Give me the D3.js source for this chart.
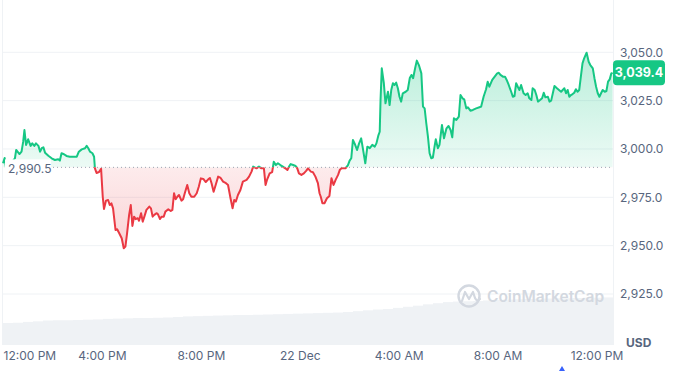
<!DOCTYPE html>
<html>
<head>
<meta charset="utf-8">
<script src="https://cdn.jsdelivr.net/npm/d3@7"></script>
<style>
  body { margin: 0; background: #fff; }
  svg { display: block; font-family: Inter, "Noto Sans", sans-serif; }
</style>
</head>
<body>
<div id="chart"></div>
<script>
// minutes after 21 Dec 12:00 PM
const minutes = [0,4,8,17,24,29,32,40,45,49,52,56,61,67,71,76,80,86,90,94,98,102,110,118,126,134,138,142,148,154,162,170,179,184,191,199,203,207,211,217,221,223,227,233,238,242,245,250,255,259,263,267,273,277,282,288,293,297,301,306,310,314,318,322,327,330,335,339,343,348,355,359,363,367,373,376,381,385,390,394,401,407,411,415,419,423,427,433,437,441,447,452,457,464,470,475,480,486,492,498,502,506,511,516,522,528,534,541,546,552,557,561,565,570,576,582,591,597,603,607,615,621,627,633,637,641,647,653,657,662,667,673,679,685,690,694,698,704,710,714,718,724,730,736,740,747,752,758,764,768,771,775,780,786,792,797,802,807,813,817,821,825,831,837,841,845,849,853,859,864,869,873,879,884,890,896,902,906,911,914,916,919,924,928,934,938,942,946,950,954,958,962,966,970,977,982,987,991,995,1000,1004,1009,1015,1019,1023,1027,1031,1035,1039,1043,1047,1050,1055,1059,1065,1070,1076,1081,1086,1090,1094,1100,1106,1110,1115,1119,1124,1128,1134,1140,1148,1156,1160,1166,1172,1176,1180,1187,1193,1199,1203,1207,1213,1218,1222,1227,1233,1237,1241,1245,1249,1253,1257,1263,1268,1273,1277,1282,1285,1290,1294,1298,1303,1308,1312,1316,1322,1326,1330,1334,1338,1344,1349,1354,1358,1362,1366,1370,1374,1378,1382,1386,1390,1394,1398,1402,1406,1410,1416,1421,1425,1431,1435,1439,1443,1447,1451,1455,1460,1464,1468,1472,1476,1479];

const prices = [2992.6,2995.3,2989.1,2991.2,2993.8,2995.2,2999.5,2997.4,2998.6,3003.8,3009.8,3002.1,3005.0,3001.6,3002.9,3001.6,3002.9,3001.6,2998.6,3000.4,3000.9,2998.1,2996.5,2995.2,2994.3,2994.7,2994.0,2997.8,2997.3,2996.4,2996.0,2996.0,2996.0,2998.6,2999.8,3000.4,3001.6,3000.4,2998.6,2997.8,2996.0,2990.0,2987.6,2988.1,2989.7,2975.3,2969.0,2973.3,2973.6,2971.0,2971.9,2969.3,2958.1,2958.5,2956.4,2953.8,2948.7,2949.5,2956.4,2965.9,2971.0,2960.2,2965.0,2963.7,2964.2,2962.9,2966.8,2962.4,2965.0,2968.5,2970.2,2969.3,2965.0,2965.9,2966.8,2966.2,2963.8,2965.0,2965.0,2967.6,2968.8,2967.9,2968.5,2977.1,2974.0,2975.3,2976.2,2973.3,2974.0,2977.1,2981.4,2977.1,2975.3,2975.3,2977.1,2980.5,2984.8,2984.5,2982.9,2984.3,2985.0,2982.3,2977.9,2981.4,2985.7,2985.0,2983.1,2982.3,2981.4,2974.5,2969.3,2973.6,2972.8,2976.2,2978.8,2983.1,2984.0,2985.7,2988.3,2990.9,2990.0,2990.9,2990.0,2990.0,2981.4,2984.3,2987.4,2988.0,2993.4,2991.7,2992.6,2991.7,2990.9,2990.0,2989.1,2990.9,2992.2,2991.7,2991.2,2990.0,2987.4,2986.6,2987.4,2988.8,2990.0,2988.3,2988.0,2985.7,2982.3,2977.1,2975.3,2971.9,2971.9,2974.5,2975.7,2984.9,2981.4,2984.0,2986.6,2989.1,2990.0,2990.0,2990.0,2991.7,2994.0,2995.2,3004.7,3002.9,2999.5,3002.9,3005.5,3000.4,2992.6,3001.2,3000.4,3002.1,3001.2,3002.9,3007.2,3008.9,3025.3,3041.7,3034.0,3023.6,3029.6,3022.7,3030.5,3034.0,3033.1,3034.3,3031.4,3027.0,3024.5,3028.8,3029.6,3030.5,3036.7,3038.3,3036.6,3041.9,3045.7,3043.4,3039.1,3021.9,3021.0,3013.3,3006.4,2997.8,2995.2,2995.6,3001.2,3005.0,3000.4,3002.1,3012.4,3005.5,3010.7,3011.9,3009.8,3006.0,3015.9,3015.0,3016.7,3027.9,3026.2,3025.7,3021.0,3021.6,3019.8,3020.2,3021.0,3021.6,3021.9,3027.0,3030.9,3034.8,3032.2,3035.7,3037.4,3039.1,3039.4,3038.3,3037.4,3037.4,3035.7,3033.1,3029.6,3027.0,3027.4,3034.0,3032.2,3030.5,3033.1,3028.8,3027.9,3028.8,3026.2,3025.3,3031.4,3030.5,3027.9,3024.5,3025.3,3026.2,3029.1,3026.7,3027.0,3024.5,3025.0,3028.8,3032.6,3031.4,3030.5,3029.6,3030.5,3031.4,3028.8,3030.5,3027.0,3027.9,3028.4,3029.1,3030.9,3029.6,3030.5,3037.4,3044.3,3046.9,3049.8,3045.1,3043.4,3041.7,3036.6,3032.2,3028.8,3027.0,3028.8,3030.5,3029.6,3030.0,3034.8,3036.0,3039.1,3039.4];

// 24h volume, billions USD, one bar per ~24 min
const volumes = [8.0,8.1,8.4,8.6,8.9,9.0,9.0,9.1,9.2,9.3,9.5,9.6,9.7,9.8,9.8,9.9,10.0,10.2,10.4,10.5,10.6,10.7,10.8,10.9,10.9,11.0,11.1,11.2,11.3,11.4,11.5,11.6,11.7,11.8,12.0,12.3,12.6,12.9,13.1,13.5,13.9,14.3,14.8,15.2,15.6,15.8,15.9,16.0,16.2,16.4,16.5,16.6,16.7,16.8,16.9,17.0,17.0,17.1,17.2,17.2,17.3];

const openPrice = 2990.5;
const lastPrice = 3039.4;
const yTicks = [2925, 2950, 2975, 3000, 3025, 3050];
// hours after start for x labels
const xTickHours = [0, 4, 8, 12, 16, 20, 24];

const W = 679, H = 371;
const left = 3, right = 613, volBottom = 345;
const green = '#16c784', red = '#ea3943', textCol = '#58667e';

const t0 = new Date(2024, 11, 21, 12, 0);
const at = (m) => new Date(t0.getTime() + m * 60000);

const data = d3.range(Math.min(minutes.length, prices.length))
    .map((i) => ({t: at(minutes[i]), p: prices[i]}));

const x = d3.scaleTime()
    .domain([t0, at(1480)])
    .range([left, right]);

const y = d3.scaleLinear()
    .domain([2925, 3050])
    .range([294, 52.3]);

const yVol = d3.scaleLinear().domain([0, 20]).range([volBottom, 290]);

const svg = d3.select('#chart').append('svg')
    .attr('width', W)
    .attr('height', H);

const defs = svg.append('defs');
const base = y(openPrice);

const gGreen = defs.append('linearGradient').attr('id', 'gGreen')
    .attr('gradientUnits', 'userSpaceOnUse')
    .attr('x1', 0).attr('x2', 0)
    .attr('y1', y(d3.max(prices))).attr('y2', base);
gGreen.append('stop').attr('offset', 0).attr('stop-color', green).attr('stop-opacity', 0.3);
gGreen.append('stop').attr('offset', 1).attr('stop-color', green).attr('stop-opacity', 0.08);

const gRed = defs.append('linearGradient').attr('id', 'gRed')
    .attr('gradientUnits', 'userSpaceOnUse')
    .attr('x1', 0).attr('x2', 0)
    .attr('y1', base).attr('y2', y(d3.min(prices)));
gRed.append('stop').attr('offset', 0).attr('stop-color', red).attr('stop-opacity', 0.1);
gRed.append('stop').attr('offset', 1).attr('stop-color', red).attr('stop-opacity', 0.22);

defs.append('clipPath').attr('id', 'above')
    .append('rect').attr('x', 0).attr('y', 0).attr('width', W).attr('height', base);
defs.append('clipPath').attr('id', 'below')
    .append('rect').attr('x', 0).attr('y', base).attr('width', W).attr('height', H - base);

// grid
svg.append('g')
    .selectAll('line')
    .data(yTicks)
    .enter().append('line')
    .attr('x1', left - 1).attr('x2', right)
    .attr('y1', (d) => y(d)).attr('y2', (d) => y(d))
    .attr('stroke', '#eff2f5')
    .attr('stroke-width', 1);

svg.append('line')
    .attr('x1', right + 0.5).attr('x2', right + 0.5)
    .attr('y1', 0).attr('y2', volBottom)
    .attr('stroke', '#eff2f5');
svg.append('line')
    .attr('x1', left - 0.5).attr('x2', left - 0.5)
    .attr('y1', 0).attr('y2', volBottom)
    .attr('stroke', '#eff2f5');

// volume
const xb = d3.scaleBand()
    .domain(d3.range(volumes.length))
    .range([left, right])
    .paddingInner(0);

svg.append('g')
    .selectAll('rect')
    .data(volumes)
    .enter().append('rect')
    .attr('x', (d, i) => xb(i))
    .attr('width', xb.bandwidth() + 0.3)
    .attr('y', (d) => yVol(d))
    .attr('height', (d) => volBottom - yVol(d))
    .attr('fill', '#eff2f5');

// watermark
const wm = svg.append('g');
wm.append('circle')
    .attr('cx', 469).attr('cy', 296).attr('r', 10.5)
    .attr('fill', 'none').attr('stroke', '#d3d8e0').attr('stroke-width', 2.4);
wm.append('path')
    .attr('d', 'M462,301 L465,292 L469,299 L473,292 L475,298 Q477,302 480,299')
    .attr('fill', 'none').attr('stroke', '#d3d8e0').attr('stroke-width', 2.2)
    .attr('stroke-linejoin', 'round').attr('stroke-linecap', 'round');
wm.append('text')
    .attr('x', 487).attr('y', 296).attr('dy', '0.36em')
    .attr('font-size', 15.5).attr('font-weight', 600)
    .attr('fill', '#d3d8e0')
    .text('CoinMarketCap');

// areas
const area = d3.area()
    .x((d) => x(d.t))
    .y0(base)
    .y1((d) => y(d.p));

const line = d3.line()
    .x((d) => x(d.t))
    .y((d) => y(d.p));

svg.append('path').datum(data)
    .attr('d', area).attr('fill', 'url(#gGreen)').attr('clip-path', 'url(#above)');
svg.append('path').datum(data)
    .attr('d', area).attr('fill', 'url(#gRed)').attr('clip-path', 'url(#below)');

// baseline
svg.append('line')
    .attr('x1', 53).attr('x2', right)
    .attr('y1', base).attr('y2', base)
    .attr('stroke', '#9aa3b2')
    .attr('stroke-width', 1)
    .attr('stroke-dasharray', '1,3');

svg.append('path').datum(data)
    .attr('d', line).attr('fill', 'none').attr('stroke', green)
    .attr('stroke-width', 2).attr('stroke-linejoin', 'round')
    .attr('clip-path', 'url(#above)');
svg.append('path').datum(data)
    .attr('d', line).attr('fill', 'none').attr('stroke', red)
    .attr('stroke-width', 2).attr('stroke-linejoin', 'round')
    .attr('clip-path', 'url(#below)');

// open price label
svg.append('rect')
    .attr('x', 5).attr('y', base - 8).attr('width', 46).attr('height', 17)
    .attr('fill', '#fff');
svg.append('text')
    .attr('x', 8).attr('y', base + 1).attr('dy', '0.35em')
    .attr('font-size', 12).attr('fill', textCol)
    .text(d3.format(',.1f')(openPrice));

// y axis
const yAxis = svg.append('g')
    .attr('transform', 'translate(' + (right + 2) + ',0)')
    .call(d3.axisRight(y).tickValues(yTicks).tickFormat(d3.format(',.1f')).tickSize(0).tickPadding(5));
yAxis.select('.domain').remove();
yAxis.selectAll('text')
    .attr('font-family', 'Inter, sans-serif')
    .attr('font-size', 12)
    .attr('fill', textCol);

svg.append('text')
    .attr('x', 626).attr('y', 343).attr('dy', '0.35em')
    .attr('font-size', 12).attr('font-weight', 700).attr('fill', textCol)
    .text('USD');

// last price tag
const tagY = y(lastPrice);
svg.append('rect')
    .attr('x', right).attr('y', tagY - 12.5).attr('width', 52).attr('height', 25)
    .attr('rx', 4).attr('fill', green);
svg.append('text')
    .attr('x', right + 26).attr('y', tagY).attr('dy', '0.36em')
    .attr('text-anchor', 'middle')
    .attr('font-size', 12.5).attr('font-weight', 700).attr('fill', '#fff')
    .text(d3.format(',.1f')(lastPrice));

// x axis
const fmtX = (d) => (d.getHours() === 0 ? d3.timeFormat('%-d %b')(d) : d3.timeFormat('%-I:%M %p')(d));
const xAxis = svg.append('g')
    .attr('transform', 'translate(0,' + 352 + ')')
    .call(d3.axisBottom(x).tickValues(xTickHours.map((h) => at(h * 60))).tickFormat(fmtX).tickSize(0).tickPadding(0));
xAxis.select('.domain').remove();
xAxis.selectAll('text')
    .attr('font-family', 'Inter, sans-serif')
    .attr('font-size', 12)
    .attr('fill', textCol)
    .attr('dy', '0.7em');
xAxis.selectAll('.tick').filter((d, i) => i === 0).select('text')
    .attr('text-anchor', 'start');

// small marker under the axis
svg.append('path')
    .attr('d', 'M559,371 L562,366 L565,371 Z')
    .attr('fill', '#3861fb');
</script>
</body>
</html>
